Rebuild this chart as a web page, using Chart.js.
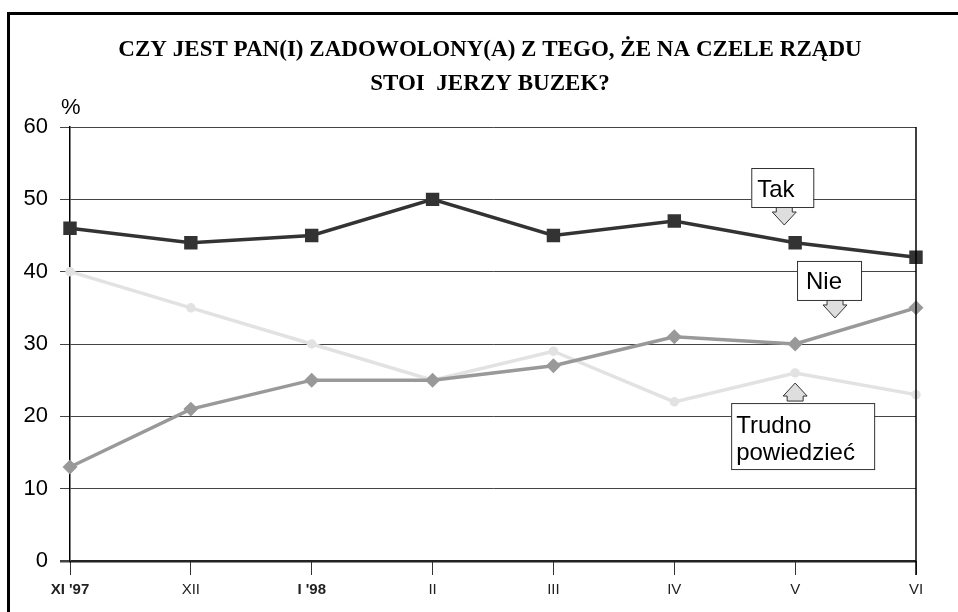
<!DOCTYPE html>
<html lang="pl">
<head>
  <meta charset="UTF-8" />
  <title>Zadowolenie z premiera Buzka</title>
  <script src="https://cdn.jsdelivr.net/npm/chart.js@4.4.0/dist/chart.umd.min.js"></script>
  <style>
    body {
      margin: 0;
      width: 958px;
      height: 612px;
      overflow: hidden;
      background: #fff;
      position: relative;
      font-family: 'Liberation Sans', Arial, sans-serif;
    }
    .frame {
      position: absolute;
      left: 7px;
      top: 12px;
      width: 1000px;
      height: 700px;
      border: 3px solid #000;
      box-sizing: border-box;
    }
    canvas {
      position: absolute;
      left: 0;
      top: 0;
    }
  </style>
</head>
<body>
  <div class="frame"></div>
  <canvas id="chart" width="958" height="612"></canvas>
  <script>
    const months = ["XI '97", "XII", "I '98", "II", "III", "IV", "V", "VI"];
    const boldMonths = [0, 2];
    const tak = [46, 44, 45, 50, 45, 47, 44, 42];
    const nie = [13, 21, 25, 25, 27, 31, 30, 35];
    const trudno = [40, 35, 30, 25, 29, 22, 26, 23];
    const titleLines = ['CZY JEST PAN(I) ZADOWOLONY(A) Z TEGO, ŻE NA CZELE RZĄDU', 'STOI  JERZY BUZEK?'];

    // callouts: anchored at (category index, value) of the arrow tip
    const callouts = [
      { lines: ['Tak'], at: [5.91, 46.45], dir: 'down', dx: -33, w: 62, h: 39, tx: 6, ty: [29] },
      { lines: ['Nie'], at: [6.33, 33.6], dir: 'down', dx: -38, w: 64, h: 39, tx: 9, ty: [28] },
      { lines: ['Trudno', 'powiedzieć'], at: [6.0, 24.6], dir: 'up', dx: -64, w: 143, h: 66, tx: 5, ty: [30, 57] }
    ];

    const decor = {
      id: 'decor',
      afterDraw(chart) {
        const ctx = chart.ctx;
        const x = chart.scales.x, y = chart.scales.y;
        ctx.save();

        // title, slightly condensed like the original
        ctx.fillStyle = '#000';
        ctx.font = 'bold 24px "Liberation Serif", "Times New Roman", serif';
        ctx.textAlign = 'center';
        ctx.textBaseline = 'alphabetic';
        [56, 90].forEach((base, i) => {
          ctx.save();
          ctx.translate(490, base);
          ctx.scale(0.96, 1);
          ctx.fillText(titleLines[i], 0, 0);
          ctx.restore();
        });

        ctx.font = '22px "Liberation Sans", Arial, sans-serif';
        ctx.textAlign = 'left';
        ctx.fillText('%', 61, 114);

        // right border of the plot
        ctx.strokeStyle = '#000';
        ctx.lineWidth = 1.5;
        ctx.beginPath();
        ctx.moveTo(chart.chartArea.right, chart.chartArea.top);
        ctx.lineTo(chart.chartArea.right, chart.chartArea.bottom + 14);
        ctx.stroke();

        // callout boxes with arrows
        callouts.forEach(c => {
          const px = x.getPixelForValue(c.at[0]);
          const py = y.getPixelForValue(c.at[1]);
          const s = c.dir === 'down' ? -1 : 1;
          const L = 18, head = 13, hw = 12, sw = 8;
          ctx.beginPath();
          ctx.moveTo(px, py);
          ctx.lineTo(px - hw, py + s * head);
          ctx.lineTo(px - sw, py + s * head);
          ctx.lineTo(px - sw, py + s * L);
          ctx.lineTo(px + sw, py + s * L);
          ctx.lineTo(px + sw, py + s * head);
          ctx.lineTo(px + hw, py + s * head);
          ctx.closePath();
          ctx.fillStyle = '#dedede';
          ctx.fill();
          ctx.strokeStyle = '#333';
          ctx.lineWidth = 1;
          ctx.stroke();
          const left = px + c.dx;
          const top = c.dir === 'down' ? py - L - c.h : py + L + 2;
          ctx.fillStyle = '#fff';
          ctx.fillRect(left, top, c.w, c.h);
          ctx.strokeRect(left + 0.5, top + 0.5, c.w, c.h);
          ctx.fillStyle = '#000';
          ctx.font = '24px "Liberation Sans", Arial, sans-serif';
          ctx.textAlign = 'left';
          c.lines.forEach((t, i) => ctx.fillText(t, left + c.tx, top + c.ty[i]));
        });
        ctx.restore();
      }
    };

    new Chart(document.getElementById('chart'), {
      type: 'line',
      data: {
        labels: months,
        datasets: [
          {
            label: 'Tak', data: tak, borderColor: '#333', backgroundColor: '#333',
            borderWidth: 3.5, pointStyle: 'rect', pointRadius: 7, tension: 0
          },
          {
            label: 'Nie', data: nie, borderColor: '#999', backgroundColor: '#999',
            borderWidth: 3.5, pointStyle: 'rectRot', pointRadius: 5, tension: 0
          },
          {
            label: 'Trudno powiedzieć', data: trudno, borderColor: '#e2e2e2', backgroundColor: '#e2e2e2',
            borderWidth: 3.5, pointStyle: 'circle', pointRadius: 3, tension: 0
          }
        ]
      },
      options: {
        responsive: false,
        animation: false,
        layout: { padding: { top: 127, right: 42, left: 0, bottom: 0 } },
        plugins: {
          legend: { display: false },
          tooltip: { enabled: false },
          title: { display: false }
        },
        scales: {
          x: {
            offset: false,
            afterFit(scale) { scale.height = 51; },
            border: { display: false },
            grid: {
              drawOnChartArea: false,
              tickLength: 14,
              tickColor: '#333',
              lineWidth: 1
            },
            ticks: {
              color: '#222',
              padding: 6,
              maxRotation: 0,
              autoSkip: false,
              font: ctx => ({
                family: '"Liberation Sans", Arial, sans-serif',
                size: 15,
                weight: boldMonths.includes(ctx.index) ? 'bold' : 'normal'
              })
            }
          },
          y: {
            min: 0,
            max: 60,
            afterFit(scale) { scale.width = 70; },
            border: { display: true, color: '#000', width: 1.5 },
            grid: {
              color: ctx => ctx.tick && ctx.tick.value === 0 ? '#222' : '#444',
              lineWidth: ctx => ctx.tick && ctx.tick.value === 0 ? 2.5 : 1,
              tickLength: 10,
              tickColor: '#444'
            },
            ticks: {
              stepSize: 10,
              color: '#000',
              padding: 12,
              font: { family: '"Liberation Sans", Arial, sans-serif', size: 22 }
            }
          }
        }
      },
      plugins: [decor]
    });
  </script>
</body>
</html>
